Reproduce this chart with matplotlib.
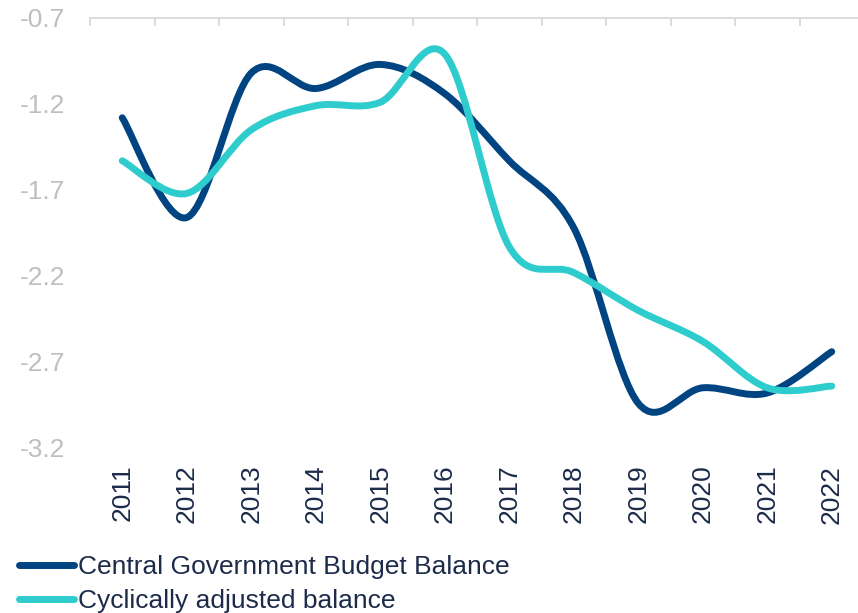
import matplotlib
matplotlib.use('Agg')
import matplotlib.pyplot as plt
import numpy as np
from matplotlib.path import Path
from matplotlib.patches import PathPatch
from matplotlib.lines import Line2D

plt.rcParams['font.family'] = ['Liberation Sans', 'DejaVu Sans']

# budget balance, % of GDP
years = ['2011', '2012', '2013', '2014', '2015', '2016',
         '2017', '2018', '2019', '2020', '2021', '2022']
central_balance = [-1.28, -1.86, -1.02, -1.11, -0.97, -1.14,
                   -1.53, -1.92, -2.94, -2.85, -2.88, -2.64]
cyclical_balance = [-1.53, -1.72, -1.35, -1.21, -1.19, -0.91,
                    -2.03, -2.18, -2.40, -2.58, -2.85, -2.84]
y_ticks = [-3.2, -2.7, -2.2, -1.7, -1.2, -0.7]

DARK_BLUE = '#004481'
TEAL = '#2ecccd'
TEXT_COLOR = '#1c2b4a'
GRAY = '#bfbfbf'
FONT_SIZE = 19
LINE_W = 5


def smooth_path(xs, ys):
    # excel-style smoothed line: cubic bezier through every point
    pts = np.column_stack([xs, ys]).astype(float)
    padded = np.vstack([pts[0], pts, pts[-1]])
    verts = [pts[0]]
    codes = [Path.MOVETO]
    for i in range(len(pts) - 1):
        p0, p1, p2, p3 = padded[i], padded[i + 1], padded[i + 2], padded[i + 3]
        verts += [p1 + (p2 - p0) / 6.0, p2 - (p3 - p1) / 6.0, p2]
        codes += [Path.CURVE4] * 3
    return Path(verts, codes)


fig = plt.figure(figsize=(8.58, 6.13), dpi=100)
ax = fig.add_axes([90 / 858, 165 / 613, 774 / 858, 430 / 613])

x = np.arange(len(years))
for vals, col in [(central_balance, DARK_BLUE), (cyclical_balance, TEAL)]:
    patch = PathPatch(smooth_path(x, vals), fill=False, edgecolor=col,
                      lw=LINE_W, capstyle='round', joinstyle='round', clip_on=False)
    ax.add_patch(patch)

ax.set_xlim(-0.5, len(years) - 0.5)
ax.set_ylim(-3.2, -0.7)

# category axis sits on top, labels stay at the bottom
for s in ['left', 'right', 'bottom']:
    ax.spines[s].set_visible(False)
ax.spines['top'].set_color('#d9d9d9')
ax.spines['top'].set_linewidth(1.3)

ax.set_xticks(x)
ax.set_xticklabels(years, rotation=90, fontsize=FONT_SIZE, color=TEXT_COLOR)
ax.tick_params(axis='x', which='major', length=0, pad=12, top=False, bottom=True)
ax.set_xticks(np.arange(-0.5, len(years), 1.0), minor=True)
ax.tick_params(axis='x', which='minor', top=True, bottom=False, direction='in',
               length=6, width=1.3, color='#d9d9d9')

ax.set_yticks(y_ticks)
ax.set_yticklabels(['%.1f' % v for v in y_ticks], fontsize=FONT_SIZE, color=GRAY)
ax.tick_params(axis='y', length=0, pad=18)

handles = [Line2D([], [], color=DARK_BLUE, lw=LINE_W, solid_capstyle='round'),
           Line2D([], [], color=TEAL, lw=LINE_W, solid_capstyle='round')]
fig.legend(handles, ['Central Government Budget Balance', 'Cyclically adjusted balance'],
           loc='upper left', bbox_to_anchor=(19 / 858, 1 - 555 / 613),
           frameon=False, fontsize=FONT_SIZE, labelcolor=TEXT_COLOR,
           handlelength=2.1, handletextpad=0.15, labelspacing=0.38,
           borderpad=0, borderaxespad=0)

fig.savefig('out.png', dpi=100)
